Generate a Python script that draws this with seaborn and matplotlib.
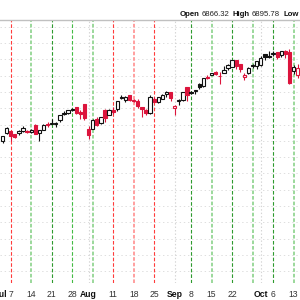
import matplotlib
matplotlib.use("Agg")
import matplotlib.pyplot as plt
from matplotlib.patches import Rectangle
import seaborn as sns
import numpy as np

sns.set_theme(style="white")
plt.rcParams['font.family'] = ['Liberation Sans', 'DejaVu Sans']
plt.rcParams['lines.scale_dashes'] = False

# trading days Jul 2 .. Oct 14 (index -2 .. 70)
dates = ["Jul 2", "Jul 3",
         "Jul 7", "Jul 8", "Jul 9", "Jul 10", "Jul 11",
         "Jul 14", "Jul 15", "Jul 16", "Jul 17", "Jul 18",
         "Jul 21", "Jul 22", "Jul 23", "Jul 24", "Jul 25",
         "Jul 28", "Jul 29", "Jul 30", "Jul 31", "Aug 1",
         "Aug 4", "Aug 5", "Aug 6", "Aug 7", "Aug 8",
         "Aug 11", "Aug 12", "Aug 13", "Aug 14", "Aug 15",
         "Aug 18", "Aug 19", "Aug 20", "Aug 21", "Aug 22",
         "Aug 25", "Aug 26", "Aug 27", "Aug 28", "Aug 29",
         "Sep 2", "Sep 3", "Sep 4", "Sep 5",
         "Sep 8", "Sep 9", "Sep 10", "Sep 11", "Sep 12",
         "Sep 15", "Sep 16", "Sep 17", "Sep 18", "Sep 19",
         "Sep 22", "Sep 23", "Sep 24", "Sep 25", "Sep 26",
         "Sep 29", "Sep 30", "Oct 1", "Oct 2", "Oct 3",
         "Oct 6", "Oct 7", "Oct 8", "Oct 9", "Oct 10",
         "Oct 13", "Oct 14"]

opens = [6199, 6247,
         6259, 6241, 6245, 6263, 6255,
         6255, 6295, 6250, 6264, 6304,
         6304, 6306, 6326, 6368, 6371,
         6397, 6409, 6375, 6427, 6271,
         6271, 6336, 6309, 6389, 6359,
         6389, 6397, 6461, 6453, 6478,
         6445, 6446, 6407, 6386, 6371,
         6458, 6435, 6457, 6486, 6499,
         6401, 6446, 6452, 6531,
         6498, 6506, 6551, 6538, 6590,
         6604, 6623, 6595, 6618, 6649,
         6655, 6693, 6671, 6590, 6615,
         6661, 6661, 6665, 6732, 6722,
         6733, 6746, 6725, 6753, 6744,
         6626, 6602]
highs = [6227, 6285,
         6263, 6242, 6266, 6290, 6266,
         6272, 6302, 6266, 6304, 6315,
         6336, 6316, 6360, 6381, 6390,
         6401, 6409, 6389, 6427, 6288,
         6331, 6343, 6349, 6394, 6395,
         6409, 6446, 6481, 6474, 6481,
         6455, 6456, 6407, 6394, 6482,
         6467, 6467, 6488, 6508, 6499,
         6417, 6454, 6502, 6533,
         6508, 6513, 6556, 6588, 6601,
         6619, 6627, 6624, 6656, 6672,
         6698, 6697, 6674, 6614, 6650,
         6671, 6689, 6718, 6733, 6751,
         6749, 6746, 6753, 6756, 6764,
         6664, 6674]
lows = [6187, 6241,
        6201, 6218, 6233, 6251, 6245,
        6245, 6241, 6201, 6264, 6285,
        6303, 6282, 6317, 6360, 6365,
        6380, 6365, 6336, 6327, 6212,
        6271, 6291, 6301, 6318, 6358,
        6364, 6385, 6454, 6441, 6443,
        6437, 6401, 6343, 6361, 6366,
        6438, 6431, 6455, 6471, 6444,
        6361, 6421, 6444, 6443,
        6488, 6485, 6517, 6533, 6578,
        6601, 6601, 6551, 6614, 6633,
        6651, 6641, 6622, 6570, 6608,
        6644, 6641, 6657, 6695, 6708,
        6718, 6699, 6713, 6711, 6550,
        6611, 6583]
closes = [6227, 6279,
          6230, 6226, 6263, 6280, 6259,
          6269, 6244, 6264, 6297, 6296,
          6305, 6309, 6359, 6363, 6389,
          6390, 6371, 6362, 6339, 6238,
          6330, 6299, 6345, 6340, 6389,
          6374, 6446, 6466, 6469, 6450,
          6449, 6412, 6396, 6370, 6467,
          6439, 6466, 6481, 6502, 6460,
          6416, 6448, 6502, 6482,
          6495, 6512, 6532, 6587, 6584,
          6615, 6607, 6600, 6632, 6664,
          6693, 6657, 6638, 6605, 6644,
          6661, 6688, 6711, 6715, 6716,
          6740, 6714, 6753, 6735, 6553,
          6655, 6644]
prev_close = 6198

# weekly marker lines (Monday index) and their colours
week_idx = [0, 5, 10, 15, 20, 25, 30, 35, 44, 49, 54, 59, 64, 69]
week_colors = ["#ff3b3b", "#9bd89b", "#2e9a2e", "#44bb44", "#9bd89b", "#ff3b3b", "#ff9f9f",
               "#ff3b3b", "#2e9a2e", "#9bd89b", "#2e9a2e", "#9bd89b", "#2e9a2e", "#9bd89b"]
week_light = [False, True, False, False, True, False, True,
              False, False, True, False, True, False, True]
day_tick_idx = [0, 5, 10, 15, 25, 30, 35, 44, 49, 54, 64, 69]
day_tick_labels = ["7", "14", "21", "28", "11", "18", "25", "8", "15", "22", "6", "13"]
month_idx = [-2.3, 19, 40, 61]
month_labels = ["Jul", "Aug", "Sep", "Oct"]
month_line_idx = [19, 40, 61]

fig = plt.figure(figsize=(3, 3), dpi=100)
ax = fig.add_axes([0, 17 / 300, 1, 263.5 / 300])
ax.set_xlim(-10.7 / 4.1, (300 - 10.7) / 4.1)
ax.set_ylim(5327.6, 6944.2)

for p in range(5400, 6901, 100):
    ax.axhline(p, color="#dedede", lw=0.7, ls=(0, (1, 2)), zorder=1)
for m in month_line_idx:
    ax.axvline(m, color="#d4d4d4", lw=0.8, ls=(0, (1, 1.5)), zorder=1)
for wi, wc, wl in zip(week_idx, week_colors, week_light):
    ax.axvline(wi, color=wc, lw=1.4 if wl else 0.8, ls=(0, (2.6, 1.4)), zorder=1)

RED = "#dc143c"
x = np.arange(-2, -2 + len(dates))
pc = prev_close
for i, o, h, l, c in zip(x, opens, highs, lows, closes):
    col = "#111111" if c >= pc else RED
    hollow = c > o
    ax.vlines(i, l, h, color=col, lw=0.8, zorder=2)
    bottom = min(o, c)
    height = max(abs(c - o), 3)
    ax.add_patch(Rectangle((i - 0.4, bottom), 0.8, height,
                           facecolor="white" if hollow else col,
                           edgecolor=col, lw=0.8, zorder=3))
    pc = c

ticks = list(day_tick_idx) + list(month_idx)
labels = list(day_tick_labels) + list(month_labels)
ax.set_xticks(ticks)
ax.set_xticklabels(labels)
ax.tick_params(axis="x", length=0, pad=5, labelsize=6.2, colors="#333333")
for t in ax.get_xticklabels():
    if t.get_text() in month_labels:
        t.set_fontweight("bold")
        t.set_color("#111111")
ax.set_yticks([])

for s in ["left", "right", "bottom"]:
    ax.spines[s].set_visible(False)
ax.spines["top"].set_color("#c0c0c0")
ax.spines["top"].set_linewidth(1.0)

ty = 1 - 14 / 300
fs = 5.6
fig.text(199.5 / 300, ty, "Open", fontsize=fs, fontweight="bold", color="#111111", va="center", ha="right")
fig.text(202 / 300, ty, "6866.32", fontsize=fs, color="#222222", va="center", ha="left")
fig.text(249.5 / 300, ty, "High", fontsize=fs, fontweight="bold", color="#111111", va="center", ha="right")
fig.text(251.5 / 300, ty, "6895.78", fontsize=fs, color="#222222", va="center", ha="left")
fig.text(283 / 300, ty, "Low", fontsize=fs, fontweight="bold", color="#111111", va="center", ha="left")

fig.savefig("out.png", dpi=100, facecolor="white")
